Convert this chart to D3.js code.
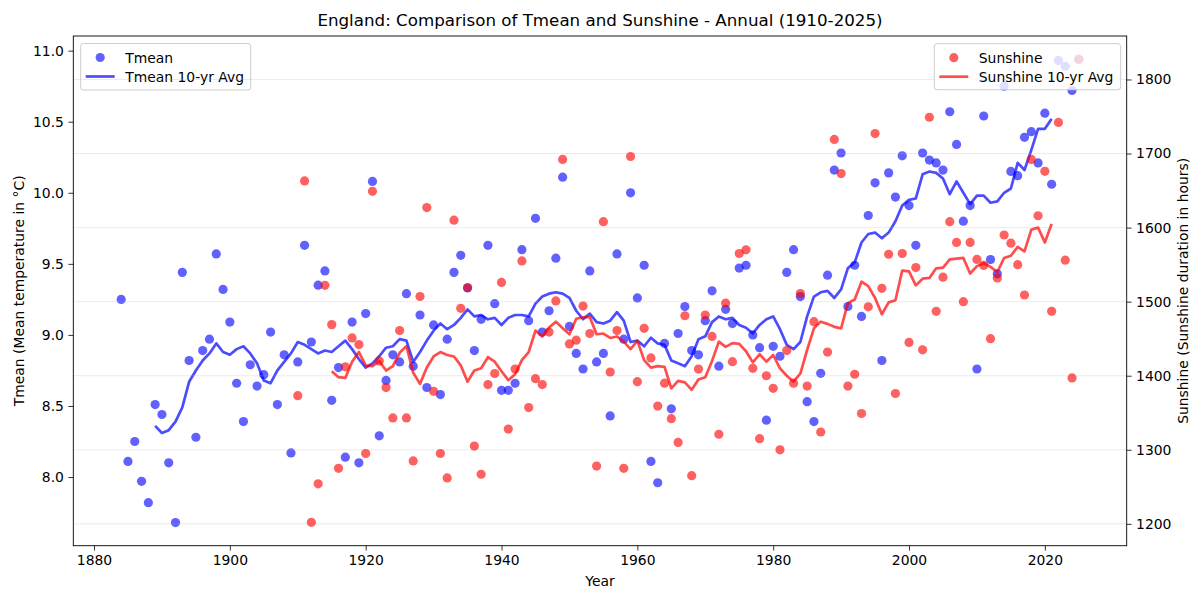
<!DOCTYPE html>
<html>
<head>
<meta charset="utf-8">
<script src="https://cdn.jsdelivr.net/npm/d3@7"></script>
<style>
  body { margin: 0; background: #fff; }
  svg { font-family: "DejaVu Sans", sans-serif; }
</style>
</head>
<body>
<svg id="chart" width="1200" height="599"></svg>
<script>
// annual values
const tmeanYears = d3.range(1884, 2026);
const tmean = [
  9.25, 8.11, 8.25, 7.97, 7.82, 8.51, 8.44, 8.10, 7.68, 9.44,
  8.82, 8.28, 8.89, 8.97, 9.57, 9.32, 9.09, 8.66, 8.39, 8.79,
  8.64, 8.72, 9.02, 8.51, 8.86, 8.17, 8.81, 9.63, 8.95, 9.35,
  9.45, 8.54, 8.77, 8.14, 9.09, 8.10, 9.15, 10.08, 8.29, 8.68,
  8.86, 8.81, 9.29, 8.78, 9.14, 8.63, 9.07, 8.58, 8.97, 9.44,
  9.56, 9.33, 8.89, 9.11, 9.63, 9.22, 8.61, 8.61, 8.66, 9.60,
  9.10, 9.82, 9.02, 9.17, 9.54, 10.11, 9.06, 8.87, 8.76, 9.45,
  8.81, 8.87, 8.43, 9.57, 8.97, 10.00, 9.26, 9.49, 8.11, 7.96,
  8.94, 8.48, 9.01, 9.20, 8.89, 8.86, 9.10, 9.31, 8.78, 9.18,
  9.08, 9.47, 9.49, 9.00, 8.91, 8.40, 8.92, 8.85, 9.44, 9.60,
  9.27, 8.53, 8.39, 8.73, 9.42, 10.16, 10.28, 9.20, 9.49, 9.13,
  9.84, 10.07, 8.82, 10.14, 9.97, 10.26, 9.91, 9.63, 10.28, 10.23,
  10.21, 10.16, 10.57, 10.34, 9.80, 9.91, 8.76, 10.54, 9.53, 9.43,
  10.75, 10.15, 10.12, 10.39, 10.43, 10.21, 10.56, 10.06, 10.93, 10.89,
  10.72, 10.94
];

const tmeanAvgYears = d3.range(1889, 2022);
const tmeanAvg = [
  8.36, 8.31, 8.33, 8.39, 8.49, 8.67, 8.75, 8.82, 8.87, 8.94,
  8.88, 8.86, 8.90, 8.92, 8.87, 8.80, 8.68, 8.66, 8.75, 8.81,
  8.87, 8.95, 8.93, 8.90, 8.87, 8.89, 8.88, 8.92, 8.96, 8.90,
  8.83, 8.77, 8.80, 8.85, 8.91, 8.92, 8.97, 8.96, 8.81, 8.88,
  8.96, 9.03, 9.08, 9.04, 9.07, 9.12, 9.18, 9.13, 9.14, 9.11,
  9.12, 9.07, 9.12, 9.14, 9.14, 9.13, 9.22, 9.27, 9.29, 9.30,
  9.29, 9.26, 9.17, 9.11, 9.15, 9.09, 9.08, 9.10, 9.16, 9.10,
  8.95, 8.96, 8.92, 8.98, 8.94, 8.93, 8.82, 8.80, 8.78, 8.85,
  8.97, 8.99, 9.09, 9.13, 9.11, 9.12, 9.07, 9.05, 9.01, 9.07,
  9.11, 9.13, 9.04, 8.93, 8.90, 8.95, 9.13, 9.27, 9.30, 9.31,
  9.26, 9.32, 9.47, 9.51, 9.65, 9.71, 9.72, 9.68, 9.72, 9.80,
  9.91, 9.95, 9.96, 10.13, 10.15, 10.14, 10.10, 9.99, 10.08, 10.00,
  9.92, 9.98, 9.98, 9.93, 9.94, 10.00, 10.03, 10.21, 10.16, 10.30,
  10.45, 10.45, 10.52
];

const sunYears = d3.range(1910, 2026);
const sunshine = [
  1373, 1663, 1202, 1254, 1522, 1469, 1275, 1412, 1451, 1442,
  1295, 1649, 1420, 1384, 1343, 1461, 1343, 1285, 1507, 1627,
  1379, 1295, 1262, 1610, 1491, 1519, 1305, 1267, 1388, 1403,
  1526, 1328, 1409, 1555, 1357, 1396, 1388, 1459, 1501, 1692,
  1443, 1448, 1494, 1457, 1278, 1608, 1405, 1461, 1275, 1696,
  1392, 1464, 1424, 1359, 1390, 1342, 1310, 1481, 1265, 1409,
  1482, 1453, 1321, 1498, 1419, 1565, 1570, 1410, 1315, 1400,
  1383, 1300, 1434, 1390, 1511, 1386, 1473, 1324, 1432, 1719,
  1673, 1386, 1402, 1349, 1493, 1727, 1518, 1564, 1376, 1565,
  1445, 1546, 1435, 1749, 1487, 1533, 1608, 1580, 1500, 1580,
  1557, 1549, 1450, 1532, 1590, 1579, 1550, 1509, 1692, 1616,
  1676, 1487, 1742, 1556, 1397, 1827
];

const sunAvgYears = d3.range(1915, 2022);
const sunAvg = [
  1406, 1398, 1397, 1419, 1432, 1414, 1413, 1420, 1407, 1413,
  1431, 1440, 1404, 1389, 1411, 1426, 1432, 1428, 1426, 1414,
  1392, 1407, 1410, 1425, 1419, 1406, 1394, 1402, 1421, 1432,
  1461, 1453, 1465, 1473, 1464, 1456, 1477, 1479, 1479, 1456,
  1457, 1451, 1453, 1446, 1436, 1447, 1421, 1411, 1413, 1412,
  1383, 1393, 1391, 1381, 1395, 1398, 1420, 1446, 1439, 1444,
  1443, 1433, 1418, 1429, 1419, 1428, 1410, 1400, 1392, 1403,
  1435, 1464, 1473, 1470, 1466, 1464, 1498, 1503, 1527, 1521,
  1505, 1483, 1499, 1502, 1542, 1541, 1522, 1531, 1532, 1545,
  1546, 1557, 1558, 1559, 1538, 1548, 1552, 1547, 1540, 1559,
  1562, 1574, 1568, 1597, 1600, 1580, 1605
];

const yearTicks = [1880, 1900, 1920, 1940, 1960, 1980, 2000, 2020];
const tmeanTicks = [8.0, 8.5, 9.0, 9.5, 10.0, 10.5, 11.0];
const sunTicks = [1200, 1300, 1400, 1500, 1600, 1700, 1800];

const plotL = 73.3, plotR = 1126.7, plotT = 36, plotB = 545.7;
const fs = 13.9;

const svg = d3.select("#chart");

const x = d3.scaleLinear().domain([1876.95, 2032.05]).range([plotL, plotR]);
const yT = d3.scaleLinear().domain([7.517, 11.103]).range([plotB, plotT]);
const yS = d3.scaleLinear().domain([1170.5, 1858.7]).range([plotB, plotT]);

// tmean points and avg line
svg.append("g")
  .selectAll("circle")
  .data(tmean)
  .enter()
  .append("circle")
  .attr("cx", (d, i) => x(tmeanYears[i]))
  .attr("cy", d => yT(d))
  .attr("r", 4.6)
  .attr("fill", "#0000ff")
  .attr("fill-opacity", 0.62);

svg.append("path")
  .datum(tmeanAvg)
  .attr("fill", "none")
  .attr("stroke", "#0000ff")
  .attr("stroke-opacity", 0.7)
  .attr("stroke-width", 2.7)
  .attr("stroke-linejoin", "round")
  .attr("d", d3.line().x((d, i) => x(tmeanAvgYears[i])).y(d => yT(d)));

function legend(x0, y0, w, h, color, labels) {
  const g = svg.append("g");
  g.append("rect")
    .attr("x", x0).attr("y", y0)
    .attr("width", w).attr("height", h)
    .attr("rx", 2.8)
    .attr("fill", "#fff").attr("fill-opacity", 0.8)
    .attr("stroke", "#cccccc").attr("stroke-width", 1);
  g.append("circle")
    .attr("cx", x0 + 19.5).attr("cy", y0 + 14)
    .attr("r", 4.6)
    .attr("fill", color).attr("fill-opacity", 0.62);
  g.append("line")
    .attr("x1", x0 + 5).attr("x2", x0 + 34)
    .attr("y1", y0 + 33).attr("y2", y0 + 33)
    .attr("stroke", color).attr("stroke-opacity", 0.7)
    .attr("stroke-width", 2.7);
  g.selectAll("text")
    .data(labels)
    .enter()
    .append("text")
    .attr("x", x0 + 44.5)
    .attr("y", (d, i) => y0 + 14 + i * 19.5)
    .attr("dy", "0.36em")
    .attr("font-size", fs)
    .attr("fill", "#000")
    .text(d => d);
}

legend(80.7, 43.5, 170, 46.5, "#0000ff", ["Tmean", "Tmean 10-yr Avg"]);

// grid from the sunshine axis
svg.append("g")
  .selectAll("line")
  .data(sunTicks)
  .enter()
  .append("line")
  .attr("x1", plotL).attr("x2", plotR)
  .attr("y1", d => yS(d)).attr("y2", d => yS(d))
  .attr("stroke", "#b0b0b0")
  .attr("stroke-opacity", 0.3)
  .attr("stroke-width", 0.8);

svg.append("g")
  .selectAll("circle")
  .data(sunshine)
  .enter()
  .append("circle")
  .attr("cx", (d, i) => x(sunYears[i]))
  .attr("cy", d => yS(d))
  .attr("r", 4.6)
  .attr("fill", "#ff0000")
  .attr("fill-opacity", 0.62);

svg.append("path")
  .datum(sunAvg)
  .attr("fill", "none")
  .attr("stroke", "#ff0000")
  .attr("stroke-opacity", 0.7)
  .attr("stroke-width", 2.7)
  .attr("stroke-linejoin", "round")
  .attr("d", d3.line().x((d, i) => x(sunAvgYears[i])).y(d => yS(d)));

legend(934.3, 43.7, 186.4, 46, "#ff0000", ["Sunshine", "Sunshine 10-yr Avg"]);

// axes
function styleAxis(g) {
  g.select(".domain").remove();
  g.selectAll(".tick line").attr("stroke", "#000").attr("stroke-width", 0.8);
  g.selectAll(".tick text")
    .attr("font-size", fs)
    .attr("font-family", "DejaVu Sans")
    .attr("fill", "#000");
}

svg.append("g")
  .attr("transform", `translate(0,${plotB})`)
  .call(d3.axisBottom(x).tickValues(yearTicks).tickFormat(d3.format("d"))
    .tickSize(4.9).tickPadding(4.5))
  .call(styleAxis);

svg.append("g")
  .attr("transform", `translate(${plotL},0)`)
  .call(d3.axisLeft(yT).tickValues(tmeanTicks).tickFormat(d3.format(".1f"))
    .tickSize(4.9).tickPadding(4.5))
  .call(styleAxis);

svg.append("g")
  .attr("transform", `translate(${plotR},0)`)
  .call(d3.axisRight(yS).tickValues(sunTicks).tickFormat(d3.format("d"))
    .tickSize(4.9).tickPadding(4.5))
  .call(styleAxis);

svg.append("rect")
  .attr("x", plotL).attr("y", plotT)
  .attr("width", plotR - plotL).attr("height", plotB - plotT)
  .attr("fill", "none")
  .attr("stroke", "#000")
  .attr("stroke-width", 0.9);

// titles
svg.append("text")
  .attr("x", (plotL + plotR) / 2).attr("y", 25.5)
  .attr("text-anchor", "middle")
  .attr("font-size", 16.7)
  .text("England: Comparison of Tmean and Sunshine - Annual (1910-2025)");

svg.append("text")
  .attr("x", (plotL + plotR) / 2).attr("y", 586)
  .attr("text-anchor", "middle")
  .attr("font-size", fs)
  .text("Year");

svg.append("text")
  .attr("transform", `translate(23.5,${(plotT + plotB) / 2}) rotate(-90)`)
  .attr("text-anchor", "middle")
  .attr("font-size", fs)
  .text("Tmean (Mean temperature in °C)");

svg.append("text")
  .attr("transform", `translate(1188,${(plotT + plotB) / 2}) rotate(-90)`)
  .attr("text-anchor", "middle")
  .attr("font-size", fs)
  .text("Sunshine (Sunshine duration in hours)");
</script>
</body>
</html>
